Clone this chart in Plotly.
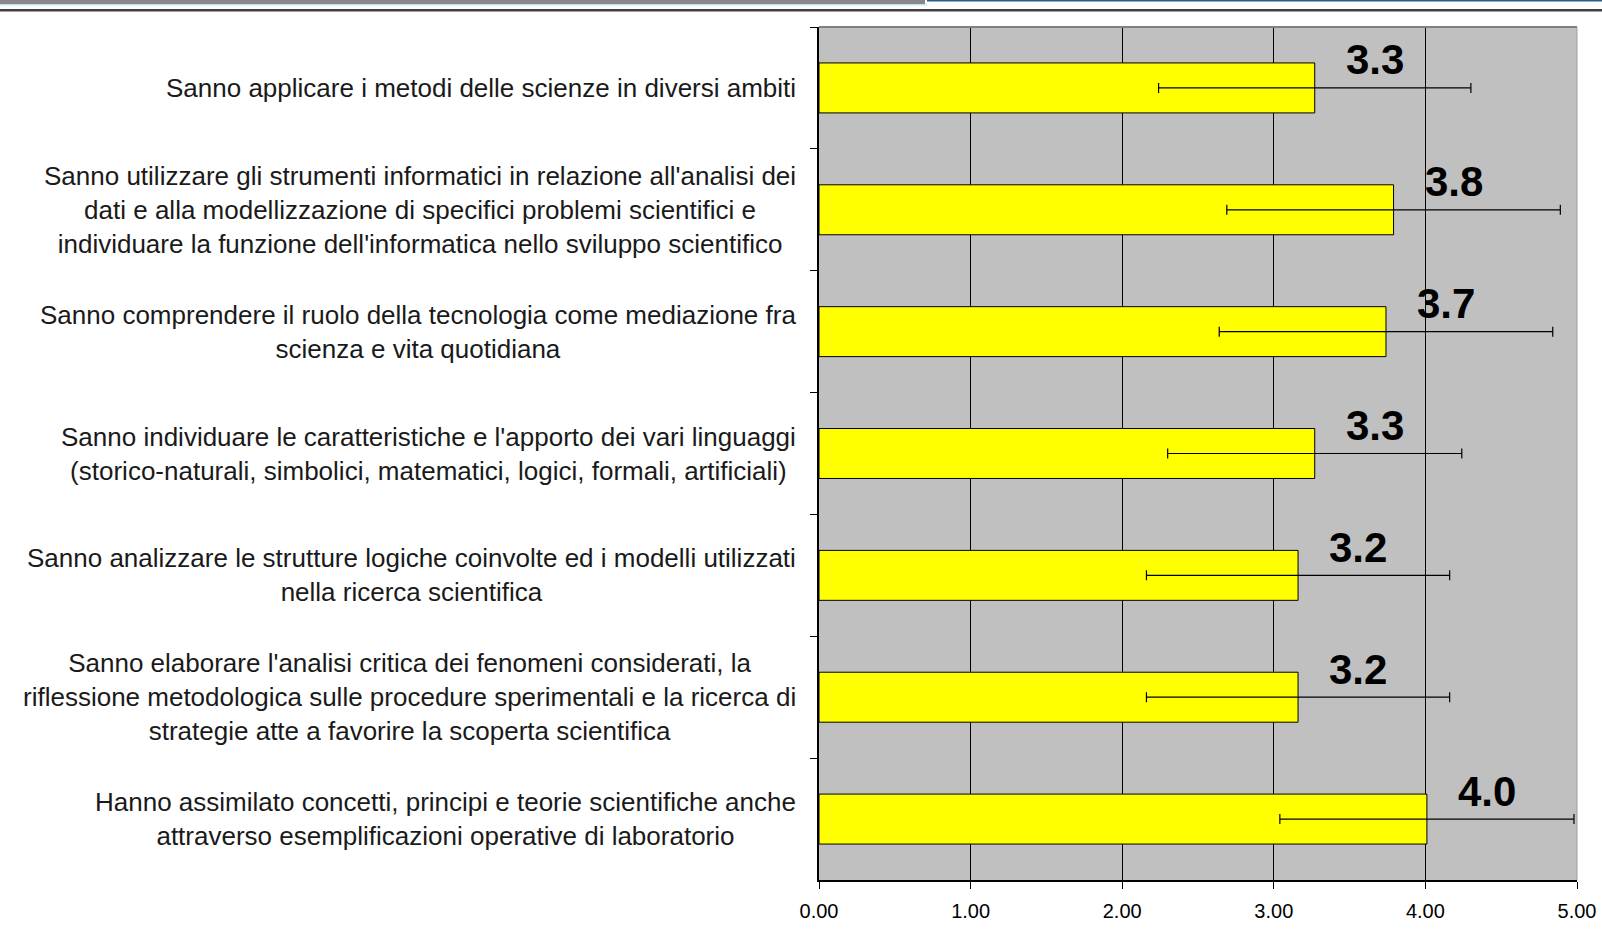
import plotly.graph_objects as go

# Data
categories = [
    "Sanno applicare i metodi delle scienze in diversi ambiti",
    "Sanno utilizzare gli strumenti informatici in relazione all'analisi dei<br>"
    "dati e alla modellizzazione di specifici problemi scientifici e<br>"
    "individuare la funzione dell'informatica nello sviluppo scientifico",
    "Sanno comprendere il ruolo della tecnologia come mediazione fra<br>"
    "scienza e vita quotidiana",
    "Sanno individuare le caratteristiche e l'apporto dei vari linguaggi<br>"
    "(storico-naturali, simbolici, matematici, logici, formali, artificiali)",
    "Sanno analizzare le strutture logiche coinvolte ed i modelli utilizzati<br>"
    "nella ricerca scientifica",
    "Sanno elaborare l'analisi critica dei fenomeni considerati, la<br>"
    "riflessione metodologica sulle procedure sperimentali e la ricerca di<br>"
    "strategie atte a favorire la scoperta scientifica",
    "Hanno assimilato concetti, principi e teorie scientifiche anche<br>"
    "attraverso esemplificazioni operative di laboratorio",
]
means = [3.27, 3.79, 3.74, 3.27, 3.16, 3.16, 4.01]
std_dev = [1.03, 1.10, 1.10, 0.97, 1.00, 1.00, 0.97]
x_ticks = [0, 1, 2, 3, 4, 5]

# Page geometry (px)
W, H = 1602, 944
L, R, T, B = 819, 1577, 27, 880


def px(x):
    return (x - L) / (R - L)


def py(y):
    return 1 - (y - T) / (B - T)


fig = go.Figure()

fig.add_trace(go.Bar(
    y=categories,
    x=means,
    orientation='h',
    width=0.41,
    marker=dict(color='#ffff00', line=dict(color='#000000', width=1)),
    error_x=dict(type='data', array=std_dev, color='#000000', thickness=1.2, width=5),
    hoverinfo='x',
))

# category labels (centered multi-line text)
for cat in categories:
    fig.add_annotation(
        x=0, xref='paper', y=cat, yref='y',
        text=cat, showarrow=False,
        xanchor='right', align='center', xshift=-21,
        font=dict(family='Liberation Sans, Arial', size=26, color='#1a1a1a'),
    )

# value labels
for cat, v in zip(categories, means):
    fig.add_annotation(
        x=v, y=cat, text=f"<b>{v:.1f}</b>", showarrow=False,
        xanchor='center', yanchor='middle', xshift=60, yshift=28,
        font=dict(family='Liberation Sans, Arial', size=42, color='#000000'),
    )

# slide decorations at the top
fig.add_shape(type='rect', xref='paper', yref='paper',
              x0=px(0), x1=px(925), y0=py(0), y1=py(4),
              fillcolor='#888888', line_width=0, layer='above')
fig.add_shape(type='rect', xref='paper', yref='paper',
              x0=px(0), x1=px(927), y0=py(4), y1=py(5.5),
              fillcolor='#bfe6ee', line_width=0, layer='above')
fig.add_shape(type='rect', xref='paper', yref='paper',
              x0=px(927), x1=px(W), y0=py(0), y1=py(1.5),
              fillcolor='#2a5a8a', line_width=0, layer='above')
fig.add_shape(type='rect', xref='paper', yref='paper',
              x0=px(0), x1=px(W), y0=py(9), y1=py(11.5),
              fillcolor='#404040', line_width=0, layer='above')

# plot area top and right borders
fig.add_shape(type='line', xref='paper', yref='paper',
              x0=0, x1=1, y0=1, y1=1, line=dict(color='#808080', width=2))
fig.add_shape(type='line', xref='paper', yref='paper',
              x0=1, x1=1, y0=0, y1=1, line=dict(color='#a0a0a0', width=1))

fig.update_layout(
    width=W, height=H,
    margin=dict(l=L, r=W - R, t=T, b=H - B, autoexpand=False),
    paper_bgcolor='#ffffff',
    plot_bgcolor='#c0c0c0',
    showlegend=False,
    xaxis=dict(
        range=[0, 5], tickvals=x_ticks,
        ticktext=[f"{t:.2f}" for t in x_ticks],
        showgrid=True, gridcolor='#000000', gridwidth=1,
        showline=True, linecolor='#000000', linewidth=1.5,
        ticks='outside', ticklen=7, tickcolor='#000000',
        ticklabelstandoff=5,
        zeroline=False,
        tickfont=dict(family='Liberation Sans, Arial', size=20, color='#000000'),
    ),
    yaxis=dict(
        autorange='reversed',
        showticklabels=False,
        showline=True, linecolor='#000000', linewidth=1.5,
        ticks='outside', ticklen=7, tickcolor='#000000',
        tickson='boundaries', showgrid=False,
    ),
)

# drop the default body margin so the figure sits at the window's corner
fig.write_html("out.html", config={'displayModeBar': False},
               post_script="document.body.style.margin='0';")
